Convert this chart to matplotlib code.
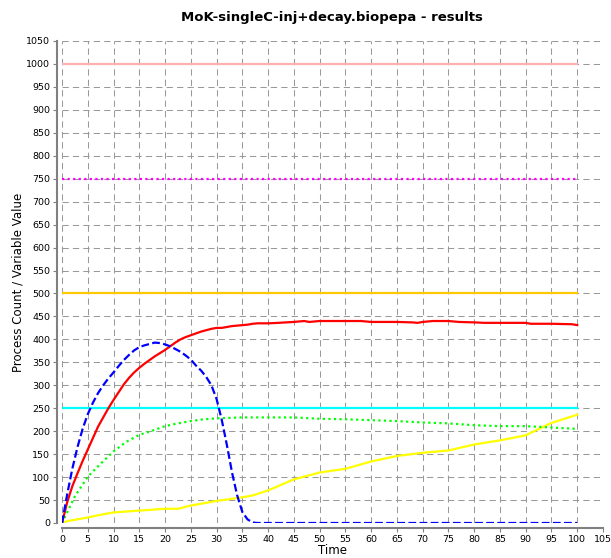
import matplotlib
matplotlib.use("Agg")
import matplotlib.pyplot as plt

title = "MoK-singleC-inj+decay.biopepa - results"
xlabel = "Time"
ylabel = "Process Count / Variable Value"

x_ticks = list(range(0, 106, 5))
y_ticks = list(range(0, 1051, 50))

# constant series
const_t = [0, 100]
pink_v = [1000, 1000]
magenta_v = [750, 750]
orange_v = [500, 500]
cyan_v = [250, 250]

# red (solid)
red_t = [0, 1, 2, 3, 4, 5, 6, 7, 8, 9, 10, 11, 12, 13, 14, 15, 16, 17, 18, 19, 20,
         21, 22, 23, 24, 25, 26, 27, 28, 29, 30, 31, 32, 33, 34, 35, 36, 37, 38, 40,
         42, 45, 47, 48, 50, 55, 58, 60, 65, 68, 69, 70, 72, 75, 77, 80, 82, 90, 91,
         95, 99, 100]
red_v = [0, 45, 80, 108, 135, 160, 185, 210, 230, 250, 268, 285, 302, 316, 328, 338,
         347, 355, 363, 370, 377, 385, 393, 400, 405, 409, 413, 417, 420, 423, 425, 425,
         427, 429, 430, 431, 432, 434, 435, 435, 436, 438, 440, 438, 440, 440, 440, 438,
         438, 437, 436, 438, 440, 440, 438, 437, 436, 436, 434, 434, 433, 431]

# blue (dashed)
blue_t = [0, 1, 2, 3, 4, 5, 6, 7, 8, 9, 10, 11, 12, 13, 14, 15, 16, 17, 18, 19, 20,
          21, 22, 23, 24, 25, 26, 27, 28, 29, 30, 31, 32, 33, 34, 35, 36, 37, 38, 100]
blue_v = [0, 62, 118, 165, 205, 237, 262, 283, 300, 315, 328, 342, 355, 366, 376, 383,
          387, 390, 393, 392, 389, 385, 379, 373, 365, 356, 343, 332, 318, 300, 270, 225,
          170, 110, 60, 24, 8, 1, 0, 0]

# green (dotted)
green_t = [0, 2.5, 5, 7.5, 10, 12.5, 15, 17.5, 20, 22.5, 25, 27.5, 30, 35, 40, 45, 50,
           55, 60, 65, 70, 75, 80, 85, 90, 95, 100]
green_v = [0, 58, 101, 129, 156, 177, 192, 201, 211, 217, 222, 226, 228, 230, 230, 230,
           227, 226, 224, 222, 219, 217, 213, 211, 211, 208, 205]

# yellow (solid)
yellow_t = [0, 1, 2.5, 5, 7.5, 10, 12.5, 15, 17.5, 20, 22.5, 25, 27.5, 30, 32.5, 35,
            37, 40, 45, 50, 55, 60, 65, 70, 75, 80, 85, 90, 92, 95, 100]
yellow_v = [0, 4, 7, 12, 18, 23, 25, 27, 29, 31, 31, 38, 43, 48, 52, 56, 60, 71, 95,
            110, 118, 134, 146, 153, 158, 171, 180, 191, 202, 218, 236]

fig = plt.figure(figsize=(6.11, 5.58), dpi=100)
ax = fig.add_axes([62 / 611, 1 - 523 / 558, (603 - 62) / 611, (523 - 41) / 558])

ax.set_xlim(0, 105)
ax.set_ylim(0, 1050)
ax.set_xticks(x_ticks)
ax.set_yticks(y_ticks)
ax.tick_params(labelsize=6.8, length=3, color="#808080", pad=2)

ax.grid(True, color="#999999", linestyle=(0, (6, 4)), linewidth=0.75)
ax.set_axisbelow(True)
for s in ("top", "right"):
    ax.spines[s].set_visible(False)
for s in ("left", "bottom"):
    ax.spines[s].set_position(("outward", 3.5))
    ax.spines[s].set_color("#808080")
    ax.spines[s].set_linewidth(1.5)

lw = 1.6
ax.plot(const_t, pink_v, color="#ffb0b0", lw=lw)
ax.plot(const_t, magenta_v, color="#ff00ff", lw=lw, linestyle=(0, (1, 1.5)))
ax.plot(const_t, orange_v, color="#ffc800", lw=lw)
ax.plot(const_t, cyan_v, color="#00ffff", lw=lw)
ax.plot(yellow_t, yellow_v, color="#ffff00", lw=lw)
ax.plot(green_t, green_v, color="#00ff00", lw=lw, linestyle=(0, (1, 1.5)))
ax.plot(red_t, red_v, color="#ff0000", lw=lw)
ax.plot(blue_t, blue_v, color="#0000ff", lw=lw, linestyle=(0, (3.5, 1.5)))

fig.text(332 / 611, 1 - 17 / 558, title, ha="center", va="center",
         fontsize=9.5, fontweight="bold")
fig.text(332 / 611, 1 - 550 / 558, xlabel, ha="center", va="center", fontsize=8.5)
fig.text(18 / 611, 1 - 282 / 558, ylabel, ha="center", va="center",
         rotation=90, fontsize=8.5)

fig.savefig("out.png", dpi=100)
